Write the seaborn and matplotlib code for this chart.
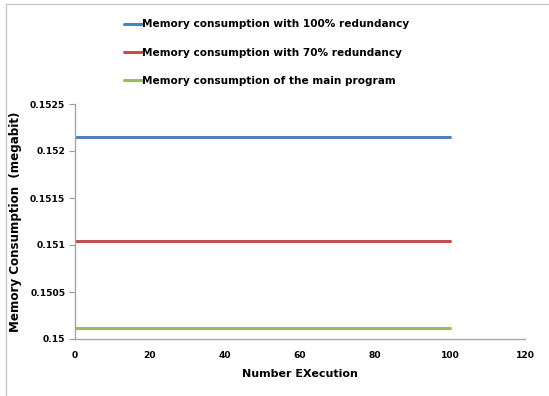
import matplotlib
matplotlib.use("Agg")
import matplotlib.pyplot as plt
from matplotlib.lines import Line2D
import seaborn as sns
import pandas as pd

# Execution counts and the (constant) memory use measured for each variant
executions = [0, 100]
mem_100_redundancy = [0.15215, 0.15215]
mem_70_redundancy = [0.15104, 0.15104]
mem_main_program = [0.15012, 0.15012]

series_labels = [
    "Memory consumption with 100% redundancy",
    "Memory consumption with 70% redundancy",
    "Memory consumption of the main program",
]
series_colors = ["#4f81bd", "#c0504d", "#9bbb59"]

x_ticks = [0, 20, 40, 60, 80, 100, 120]
y_ticks = [0.15, 0.1505, 0.151, 0.1515, 0.152, 0.1525]
y_tick_labels = ["0.15", "0.1505", "0.151", "0.1515", "0.152", "0.1525"]

frames = []
for label, values in zip(series_labels, [mem_100_redundancy, mem_70_redundancy, mem_main_program]):
    frames.append(pd.DataFrame({"Execution": executions, "Memory": values, "Series": label}))
df = pd.concat(frames, ignore_index=True)

sns.set_theme(style="white", rc={
    "ytick.left": True, "ytick.major.size": 4, "ytick.major.width": 0.8,
    "ytick.color": "#888888", "text.color": "black", "axes.labelcolor": "black",
})
plt.rcParams["font.family"] = ["DejaVu Sans"]

fig = plt.figure(figsize=(5.49, 3.96), dpi=100)
ax = fig.add_axes([75 / 549, 1 - 339 / 396, 450 / 549, 235 / 396])

sns.lineplot(
    data=df, x="Execution", y="Memory", hue="Series",
    palette=dict(zip(series_labels, series_colors)),
    linewidth=2.2, legend=False, ax=ax,
)

ax.set_xlim(0, 120)
ax.set_ylim(0.15, 0.1525)
ax.set_xticks(x_ticks)
ax.set_xticklabels([str(t) for t in x_ticks], fontsize=6.6, fontweight="bold", color="black")
ax.set_yticks(y_ticks)
ax.set_yticklabels(y_tick_labels, fontsize=6.6, fontweight="bold", color="black")
ax.tick_params(axis="y", which="major", direction="out", length=4, width=0.8,
               color="#999999", left=True, pad=3)
ax.tick_params(axis="x", which="major", length=0, pad=9)

for side in ["top", "right"]:
    ax.spines[side].set_visible(False)
for side in ["left", "bottom"]:
    ax.spines[side].set_color("#a6a6a6")
    ax.spines[side].set_linewidth(1.0)

ax.set_xlabel("Number EXecution", fontsize=8, fontweight="bold", labelpad=6)
ax.set_ylabel("Memory Consumption  (megabit)", fontsize=8.6, fontweight="bold")
ax.yaxis.set_label_coords(-53 / 450, 0.5)

handles = [Line2D([0], [0], color=c, linewidth=2.2) for c in series_colors]
fig.legend(
    handles, series_labels, loc="upper left", bbox_to_anchor=(120 / 549, 1 - 15 / 396),
    frameon=False, prop={"size": 7.6, "weight": "bold"},
    handlelength=1.7, handletextpad=0.0, labelspacing=1.75, borderaxespad=0,
)

# Worksheet border around the chart area
fig.add_artist(Line2D([6 / 549, 6 / 549], [0, 1 - 4 / 396], transform=fig.transFigure,
                      color="#c8c8c8", linewidth=1.0))
fig.add_artist(Line2D([6 / 549, 1], [1 - 4 / 396, 1 - 4 / 396], transform=fig.transFigure,
                      color="#c8c8c8", linewidth=1.0))

fig.savefig("out.png", dpi=100)
